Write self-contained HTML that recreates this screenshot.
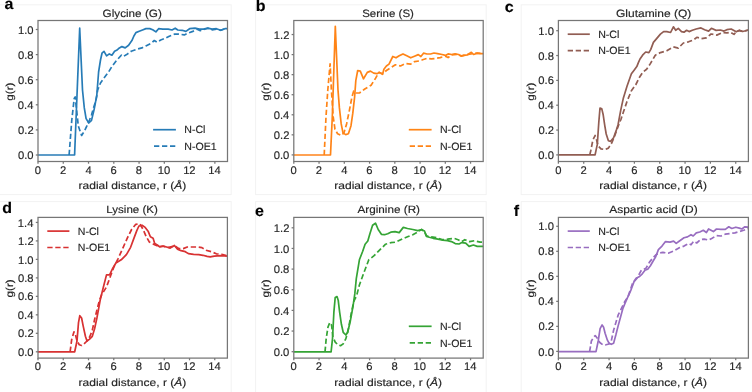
<!DOCTYPE html><html><head><meta charset="utf-8"><style>html,body{margin:0;padding:0;background:#fff;width:752px;height:392px;overflow:hidden}svg{display:block;will-change:transform}text{font-family:"Liberation Sans", sans-serif;text-rendering:geometricPrecision}</style></head><body>
<svg width="752" height="392" viewBox="0 0 752 392">
<defs><filter id="soft" x="-5%" y="-5%" width="110%" height="110%"><feGaussianBlur stdDeviation="0.45"/></filter></defs><g filter="url(#soft)">
<rect x="-2" y="4.8" width="233.2" height="189.8" fill="none" stroke="#f2f2f2" stroke-width="1"/>
<rect x="255.6" y="4.8" width="230.6" height="189.8" fill="none" stroke="#f2f2f2" stroke-width="1"/>
<rect x="521.2" y="4.8" width="238.8" height="189.8" fill="none" stroke="#f2f2f2" stroke-width="1"/>
<rect x="-2" y="201.6" width="233.2" height="198.4" fill="none" stroke="#f2f2f2" stroke-width="1"/>
<rect x="255.6" y="201.6" width="230.6" height="198.4" fill="none" stroke="#f2f2f2" stroke-width="1"/>
<rect x="521.2" y="201.6" width="238.8" height="198.4" fill="none" stroke="#f2f2f2" stroke-width="1"/>
<text transform="translate(4.62,8.50) scale(1.0300,1)" font-size="15.5" fill="#000" stroke="#000" stroke-width="0.15" font-weight="bold"><tspan>a</tspan></text>
<text transform="translate(102.61,16.50) scale(1.1046,1)" font-size="10.6" fill="#262626" stroke="#262626" stroke-width="0.15"><tspan>Glycine (G)</tspan></text>
<clipPath id="clipa"><rect x="38.0" y="20.5" width="189.50" height="141.00"/></clipPath>
<path d="M69.1,155.0 L71.8,120.0 L74.2,98.5 L75.2,97.0 L76.6,110.0 L78.3,126.0 L81.6,135.5 L84.5,131.0 L87.0,125.7 L89.5,120.0 L91.5,115.0 L93.5,108.0 L95.9,100.7 L97.7,90.0 L100.5,83.0 L104.0,78.0 L108.6,72.0 L111.9,66.5 L115.9,61.2 L121.3,55.2 L123.2,56.6 L126.6,54.6 L131.2,51.3 L136.5,49.3 L141.9,47.9 L145.9,45.9 L151.2,43.3 L154.3,40.5 L157.0,42.1 L160.7,40.0 L165.0,38.3 L169.3,36.2 L174.6,34.1 L178.9,34.1 L184.3,34.9 L188.5,33.0 L192.8,31.4 L197.1,29.2 L200.3,30.6 L204.6,29.2 L207.8,28.2 L212.1,29.8 L216.4,29.2 L220.7,30.3 L224.9,28.7 L228.0,28.7" fill="none" stroke="#287cb7" stroke-width="1.7" stroke-linejoin="round" stroke-dasharray="5.3 2.7" clip-path="url(#clipa)"/>
<path d="M38.0,155.0 L74.6,155.0 L79.7,28.2 L82.5,90.0 L84.3,107.9 L86.1,118.6 L88.8,123.0 L91.5,120.4 L94.1,109.6 L96.8,95.4 L98.6,72.0 L100.5,60.0 L102.0,53.2 L104.0,51.3 L106.6,55.9 L109.3,53.9 L111.9,55.2 L114.6,51.3 L116.6,50.3 L118.6,48.6 L121.9,46.6 L125.2,47.9 L128.6,45.3 L131.9,40.6 L133.9,36.0 L135.9,32.6 L139.2,31.3 L142.5,30.0 L145.9,28.6 L149.8,28.6 L152.7,29.8 L155.9,31.9 L158.6,28.7 L162.8,29.2 L168.2,29.2 L172.0,30.0 L175.2,28.2 L177.8,30.0 L182.1,30.3 L185.9,31.4 L189.6,28.7 L195.0,28.2 L199.3,29.2 L203.5,29.2 L207.8,28.2 L212.1,29.2 L216.4,28.7 L220.7,30.3 L224.9,28.7 L228.0,28.7" fill="none" stroke="#287cb7" stroke-width="1.7" stroke-linejoin="round" clip-path="url(#clipa)"/>
<rect x="38.0" y="20.5" width="189.50" height="141.00" fill="none" stroke="#767676" stroke-width="1.25"/>
<line x1="38.00" y1="161.5" x2="38.00" y2="163.7" stroke="#767676" stroke-width="1.25"/>
<text transform="translate(34.76,173.60) scale(1.0200,1)" font-size="11.0" fill="#262626" stroke="#262626" stroke-width="0.15"><tspan>0</tspan></text>
<line x1="63.27" y1="161.5" x2="63.27" y2="163.7" stroke="#767676" stroke-width="1.25"/>
<text transform="translate(60.05,173.60) scale(1.0200,1)" font-size="11.0" fill="#262626" stroke="#262626" stroke-width="0.15"><tspan>2</tspan></text>
<line x1="88.53" y1="161.5" x2="88.53" y2="163.7" stroke="#767676" stroke-width="1.25"/>
<text transform="translate(85.38,173.60) scale(1.0200,1)" font-size="11.0" fill="#262626" stroke="#262626" stroke-width="0.15"><tspan>4</tspan></text>
<line x1="113.80" y1="161.5" x2="113.80" y2="163.7" stroke="#767676" stroke-width="1.25"/>
<text transform="translate(110.53,173.60) scale(1.0200,1)" font-size="11.0" fill="#262626" stroke="#262626" stroke-width="0.15"><tspan>6</tspan></text>
<line x1="139.07" y1="161.5" x2="139.07" y2="163.7" stroke="#767676" stroke-width="1.25"/>
<text transform="translate(135.83,173.60) scale(1.0200,1)" font-size="11.0" fill="#262626" stroke="#262626" stroke-width="0.15"><tspan>8</tspan></text>
<line x1="164.33" y1="161.5" x2="164.33" y2="163.7" stroke="#767676" stroke-width="1.25"/>
<text transform="translate(157.78,173.60) scale(1.0200,1)" font-size="11.0" fill="#262626" stroke="#262626" stroke-width="0.15"><tspan>10</tspan></text>
<line x1="189.60" y1="161.5" x2="189.60" y2="163.7" stroke="#767676" stroke-width="1.25"/>
<text transform="translate(183.13,173.60) scale(1.0200,1)" font-size="11.0" fill="#262626" stroke="#262626" stroke-width="0.15"><tspan>12</tspan></text>
<line x1="214.87" y1="161.5" x2="214.87" y2="163.7" stroke="#767676" stroke-width="1.25"/>
<text transform="translate(208.29,173.60) scale(1.0200,1)" font-size="11.0" fill="#262626" stroke="#262626" stroke-width="0.15"><tspan>14</tspan></text>
<line x1="35.8" y1="155.00" x2="38.0" y2="155.00" stroke="#767676" stroke-width="1.25"/>
<text transform="translate(17.90,159.10) scale(1.0200,1)" font-size="11.0" fill="#262626" stroke="#262626" stroke-width="0.15"><tspan>0.0</tspan></text>
<line x1="35.8" y1="129.90" x2="38.0" y2="129.90" stroke="#767676" stroke-width="1.25"/>
<text transform="translate(18.07,134.00) scale(1.0200,1)" font-size="11.0" fill="#262626" stroke="#262626" stroke-width="0.15"><tspan>0.2</tspan></text>
<line x1="35.8" y1="104.80" x2="38.0" y2="104.80" stroke="#767676" stroke-width="1.25"/>
<text transform="translate(17.84,108.90) scale(1.0200,1)" font-size="11.0" fill="#262626" stroke="#262626" stroke-width="0.15"><tspan>0.4</tspan></text>
<line x1="35.8" y1="79.70" x2="38.0" y2="79.70" stroke="#767676" stroke-width="1.25"/>
<text transform="translate(17.95,83.80) scale(1.0200,1)" font-size="11.0" fill="#262626" stroke="#262626" stroke-width="0.15"><tspan>0.6</tspan></text>
<line x1="35.8" y1="54.60" x2="38.0" y2="54.60" stroke="#767676" stroke-width="1.25"/>
<text transform="translate(17.95,58.70) scale(1.0200,1)" font-size="11.0" fill="#262626" stroke="#262626" stroke-width="0.15"><tspan>0.8</tspan></text>
<line x1="35.8" y1="29.50" x2="38.0" y2="29.50" stroke="#767676" stroke-width="1.25"/>
<text transform="translate(17.90,33.60) scale(1.0200,1)" font-size="11.0" fill="#262626" stroke="#262626" stroke-width="0.15"><tspan>1.0</tspan></text>
<text transform="translate(78.51,188.90) scale(1.1600,1)" font-size="10.4" fill="#262626" stroke="#262626" stroke-width="0.15"><tspan>radial distance, r (</tspan><tspan font-style="italic">Å</tspan><tspan>)</tspan></text>
<text transform="translate(13.20,91.80) rotate(-90) translate(-8.90,0) scale(1.1400,1)" font-size="10.2" fill="#262626" stroke="#262626" stroke-width="0.15">g(r)</text>
<line x1="153.10" y1="129.70" x2="175.90" y2="129.70" stroke="#287cb7" stroke-width="1.7"/>
<line x1="153.10" y1="146.20" x2="175.90" y2="146.20" stroke="#287cb7" stroke-width="1.7" stroke-dasharray="5.3 2.7" stroke-dashoffset="-0.9"/>
<text transform="translate(184.25,133.40) scale(1.0000,1)" font-size="10.6" fill="#262626" stroke="#262626" stroke-width="0.15"><tspan>N-Cl</tspan></text>
<text transform="translate(184.25,149.90) scale(1.0000,1)" font-size="10.6" fill="#262626" stroke="#262626" stroke-width="0.15"><tspan>N-OE1</tspan></text>
<text transform="translate(255.86,11.40) scale(1.0300,1)" font-size="15.5" fill="#000" stroke="#000" stroke-width="0.15" font-weight="bold"><tspan>b</tspan></text>
<text transform="translate(362.18,16.50) scale(1.0840,1)" font-size="10.6" fill="#262626" stroke="#262626" stroke-width="0.15"><tspan>Serine (S)</tspan></text>
<clipPath id="clipb"><rect x="293.8" y="20.5" width="189.40" height="141.00"/></clipPath>
<path d="M324.2,155.0 L326.0,116.8 L327.8,90.0 L330.1,63.8 L331.4,90.0 L333.2,116.8 L335.0,129.3 L337.6,133.8 L341.2,135.5 L343.9,132.9 L346.6,123.9 L349.2,111.4 L351.9,97.1 L353.7,91.0 L355.8,93.0 L359.7,92.8 L364.8,89.0 L371.1,85.2 L375.6,78.2 L378.8,72.4 L382.6,73.7 L386.4,70.5 L390.3,68.0 L395.4,64.8 L400.5,66.0 L405.6,63.5 L410.7,64.1 L414.5,61.6 L419.6,60.9 L422.6,59.8 L427.0,58.4 L431.4,58.9 L435.8,58.4 L440.2,57.6 L445.5,56.2 L448.1,57.6 L451.6,54.9 L456.9,54.5 L461.3,55.8 L465.7,54.9 L470.9,54.0 L476.2,53.2 L484.0,53.6" fill="none" stroke="#ff8418" stroke-width="1.7" stroke-linejoin="round" stroke-dasharray="5.3 2.7" clip-path="url(#clipb)"/>
<path d="M294.0,155.0 L330.5,155.0 L332.3,116.8 L335.3,26.3 L338.0,90.0 L339.4,107.9 L341.2,123.9 L343.0,132.9 L345.7,134.6 L348.4,133.8 L351.0,125.7 L352.8,113.2 L354.6,97.1 L355.8,80.7 L357.7,70.5 L360.3,71.1 L363.5,78.8 L367.3,72.4 L370.5,71.1 L373.7,73.1 L376.9,73.7 L379.4,72.4 L382.6,74.3 L383.9,69.2 L386.4,66.0 L389.0,64.1 L392.8,56.5 L396.0,57.8 L399.2,55.8 L403.0,53.9 L406.8,55.8 L410.7,57.8 L414.5,56.2 L418.3,54.6 L420.9,56.5 L423.5,53.2 L427.0,54.0 L430.5,54.0 L434.0,53.0 L437.6,53.6 L442.0,54.5 L445.5,55.4 L448.1,53.9 L451.6,54.5 L455.1,53.9 L458.6,54.5 L461.3,56.2 L463.9,55.4 L467.4,54.8 L471.4,52.3 L473.6,54.5 L477.1,53.2 L480.6,53.6 L484.0,53.6" fill="none" stroke="#ff8418" stroke-width="1.7" stroke-linejoin="round" clip-path="url(#clipb)"/>
<rect x="293.8" y="20.5" width="189.40" height="141.00" fill="none" stroke="#767676" stroke-width="1.25"/>
<line x1="293.80" y1="161.5" x2="293.80" y2="163.7" stroke="#767676" stroke-width="1.25"/>
<text transform="translate(290.56,173.60) scale(1.0200,1)" font-size="11.0" fill="#262626" stroke="#262626" stroke-width="0.15"><tspan>0</tspan></text>
<line x1="319.05" y1="161.5" x2="319.05" y2="163.7" stroke="#767676" stroke-width="1.25"/>
<text transform="translate(315.84,173.60) scale(1.0200,1)" font-size="11.0" fill="#262626" stroke="#262626" stroke-width="0.15"><tspan>2</tspan></text>
<line x1="344.31" y1="161.5" x2="344.31" y2="163.7" stroke="#767676" stroke-width="1.25"/>
<text transform="translate(341.15,173.60) scale(1.0200,1)" font-size="11.0" fill="#262626" stroke="#262626" stroke-width="0.15"><tspan>4</tspan></text>
<line x1="369.56" y1="161.5" x2="369.56" y2="163.7" stroke="#767676" stroke-width="1.25"/>
<text transform="translate(366.29,173.60) scale(1.0200,1)" font-size="11.0" fill="#262626" stroke="#262626" stroke-width="0.15"><tspan>6</tspan></text>
<line x1="394.81" y1="161.5" x2="394.81" y2="163.7" stroke="#767676" stroke-width="1.25"/>
<text transform="translate(391.57,173.60) scale(1.0200,1)" font-size="11.0" fill="#262626" stroke="#262626" stroke-width="0.15"><tspan>8</tspan></text>
<line x1="420.07" y1="161.5" x2="420.07" y2="163.7" stroke="#767676" stroke-width="1.25"/>
<text transform="translate(413.52,173.60) scale(1.0200,1)" font-size="11.0" fill="#262626" stroke="#262626" stroke-width="0.15"><tspan>10</tspan></text>
<line x1="445.32" y1="161.5" x2="445.32" y2="163.7" stroke="#767676" stroke-width="1.25"/>
<text transform="translate(438.85,173.60) scale(1.0200,1)" font-size="11.0" fill="#262626" stroke="#262626" stroke-width="0.15"><tspan>12</tspan></text>
<line x1="470.57" y1="161.5" x2="470.57" y2="163.7" stroke="#767676" stroke-width="1.25"/>
<text transform="translate(463.99,173.60) scale(1.0200,1)" font-size="11.0" fill="#262626" stroke="#262626" stroke-width="0.15"><tspan>14</tspan></text>
<line x1="291.6" y1="154.90" x2="293.8" y2="154.90" stroke="#767676" stroke-width="1.25"/>
<text transform="translate(273.70,159.00) scale(1.0200,1)" font-size="11.0" fill="#262626" stroke="#262626" stroke-width="0.15"><tspan>0.0</tspan></text>
<line x1="291.6" y1="134.84" x2="293.8" y2="134.84" stroke="#767676" stroke-width="1.25"/>
<text transform="translate(273.87,138.94) scale(1.0200,1)" font-size="11.0" fill="#262626" stroke="#262626" stroke-width="0.15"><tspan>0.2</tspan></text>
<line x1="291.6" y1="114.78" x2="293.8" y2="114.78" stroke="#767676" stroke-width="1.25"/>
<text transform="translate(273.64,118.88) scale(1.0200,1)" font-size="11.0" fill="#262626" stroke="#262626" stroke-width="0.15"><tspan>0.4</tspan></text>
<line x1="291.6" y1="94.72" x2="293.8" y2="94.72" stroke="#767676" stroke-width="1.25"/>
<text transform="translate(273.75,98.82) scale(1.0200,1)" font-size="11.0" fill="#262626" stroke="#262626" stroke-width="0.15"><tspan>0.6</tspan></text>
<line x1="291.6" y1="74.66" x2="293.8" y2="74.66" stroke="#767676" stroke-width="1.25"/>
<text transform="translate(273.75,78.76) scale(1.0200,1)" font-size="11.0" fill="#262626" stroke="#262626" stroke-width="0.15"><tspan>0.8</tspan></text>
<line x1="291.6" y1="54.60" x2="293.8" y2="54.60" stroke="#767676" stroke-width="1.25"/>
<text transform="translate(273.70,58.70) scale(1.0200,1)" font-size="11.0" fill="#262626" stroke="#262626" stroke-width="0.15"><tspan>1.0</tspan></text>
<line x1="291.6" y1="34.54" x2="293.8" y2="34.54" stroke="#767676" stroke-width="1.25"/>
<text transform="translate(273.87,38.64) scale(1.0200,1)" font-size="11.0" fill="#262626" stroke="#262626" stroke-width="0.15"><tspan>1.2</tspan></text>
<text transform="translate(334.26,188.90) scale(1.1600,1)" font-size="10.4" fill="#262626" stroke="#262626" stroke-width="0.15"><tspan>radial distance, r (</tspan><tspan font-style="italic">Å</tspan><tspan>)</tspan></text>
<text transform="translate(269.00,91.80) rotate(-90) translate(-8.90,0) scale(1.1400,1)" font-size="10.2" fill="#262626" stroke="#262626" stroke-width="0.15">g(r)</text>
<line x1="408.80" y1="129.70" x2="431.60" y2="129.70" stroke="#ff8418" stroke-width="1.7"/>
<line x1="408.80" y1="146.20" x2="431.60" y2="146.20" stroke="#ff8418" stroke-width="1.7" stroke-dasharray="5.3 2.7" stroke-dashoffset="-0.9"/>
<text transform="translate(439.95,133.40) scale(1.0000,1)" font-size="10.6" fill="#262626" stroke="#262626" stroke-width="0.15"><tspan>N-Cl</tspan></text>
<text transform="translate(439.95,149.90) scale(1.0000,1)" font-size="10.6" fill="#262626" stroke="#262626" stroke-width="0.15"><tspan>N-OE1</tspan></text>
<text transform="translate(504.86,11.70) scale(1.0300,1)" font-size="15.5" fill="#000" stroke="#000" stroke-width="0.15" font-weight="bold"><tspan>c</tspan></text>
<text transform="translate(616.00,16.50) scale(1.1309,1)" font-size="10.6" fill="#262626" stroke="#262626" stroke-width="0.15"><tspan>Glutamine (Q)</tspan></text>
<clipPath id="clipc"><rect x="558.4" y="20.5" width="190.00" height="141.00"/></clipPath>
<path d="M589.8,154.8 L590.7,151.0 L592.9,140.0 L595.1,135.5 L596.6,140.0 L598.1,145.9 L601.0,148.8 L604.7,149.6 L608.4,148.1 L611.4,143.6 L614.3,137.0 L618.0,126.6 L621.0,119.2 L623.4,112.1 L627.0,101.4 L631.4,90.7 L635.9,84.5 L639.5,77.3 L643.0,72.0 L646.6,69.3 L650.2,63.9 L655.3,55.2 L660.4,52.6 L666.8,50.7 L673.2,46.9 L678.3,48.1 L683.4,43.0 L688.5,41.8 L693.6,39.9 L696.8,37.3 L701.2,38.6 L706.3,37.9 L711.1,34.0 L716.8,35.1 L722.6,32.6 L726.9,32.9 L730.5,32.2 L734.0,34.4 L736.2,31.8 L739.1,30.4 L742.7,31.5 L748.5,30.0" fill="none" stroke="#915d52" stroke-width="1.7" stroke-linejoin="round" stroke-dasharray="5.3 2.7" clip-path="url(#clipc)"/>
<path d="M558.0,154.8 L595.1,154.8 L597.3,144.4 L598.8,122.2 L600.0,108.1 L601.8,108.9 L603.2,114.8 L604.7,125.1 L606.2,134.0 L608.4,140.7 L610.6,141.4 L613.6,137.7 L616.5,129.6 L618.0,125.0 L620.7,110.4 L623.4,97.9 L627.0,86.2 L631.4,73.8 L634.1,70.2 L636.8,66.6 L638.6,62.1 L640.0,59.0 L642.6,55.2 L645.7,52.0 L648.9,52.6 L650.8,49.4 L653.4,42.4 L656.6,38.6 L660.4,34.1 L663.6,31.6 L666.8,31.6 L670.6,32.5 L673.4,26.8 L675.7,30.3 L678.3,28.4 L681.5,31.6 L684.0,32.2 L686.6,30.3 L689.1,31.6 L692.3,30.3 L696.1,29.0 L701.0,27.9 L704.6,29.7 L708.6,31.1 L711.4,28.3 L716.1,30.4 L720.4,30.0 L724.0,31.1 L726.9,29.7 L731.2,29.0 L736.2,31.8 L739.1,30.4 L742.7,31.5 L748.5,30.0" fill="none" stroke="#915d52" stroke-width="1.7" stroke-linejoin="round" clip-path="url(#clipc)"/>
<rect x="558.4" y="20.5" width="190.00" height="141.00" fill="none" stroke="#767676" stroke-width="1.25"/>
<line x1="558.40" y1="161.5" x2="558.40" y2="163.7" stroke="#767676" stroke-width="1.25"/>
<text transform="translate(555.16,173.60) scale(1.0200,1)" font-size="11.0" fill="#262626" stroke="#262626" stroke-width="0.15"><tspan>0</tspan></text>
<line x1="583.73" y1="161.5" x2="583.73" y2="163.7" stroke="#767676" stroke-width="1.25"/>
<text transform="translate(580.52,173.60) scale(1.0200,1)" font-size="11.0" fill="#262626" stroke="#262626" stroke-width="0.15"><tspan>2</tspan></text>
<line x1="609.07" y1="161.5" x2="609.07" y2="163.7" stroke="#767676" stroke-width="1.25"/>
<text transform="translate(605.91,173.60) scale(1.0200,1)" font-size="11.0" fill="#262626" stroke="#262626" stroke-width="0.15"><tspan>4</tspan></text>
<line x1="634.40" y1="161.5" x2="634.40" y2="163.7" stroke="#767676" stroke-width="1.25"/>
<text transform="translate(631.13,173.60) scale(1.0200,1)" font-size="11.0" fill="#262626" stroke="#262626" stroke-width="0.15"><tspan>6</tspan></text>
<line x1="659.73" y1="161.5" x2="659.73" y2="163.7" stroke="#767676" stroke-width="1.25"/>
<text transform="translate(656.49,173.60) scale(1.0200,1)" font-size="11.0" fill="#262626" stroke="#262626" stroke-width="0.15"><tspan>8</tspan></text>
<line x1="685.07" y1="161.5" x2="685.07" y2="163.7" stroke="#767676" stroke-width="1.25"/>
<text transform="translate(678.52,173.60) scale(1.0200,1)" font-size="11.0" fill="#262626" stroke="#262626" stroke-width="0.15"><tspan>10</tspan></text>
<line x1="710.40" y1="161.5" x2="710.40" y2="163.7" stroke="#767676" stroke-width="1.25"/>
<text transform="translate(703.93,173.60) scale(1.0200,1)" font-size="11.0" fill="#262626" stroke="#262626" stroke-width="0.15"><tspan>12</tspan></text>
<line x1="735.73" y1="161.5" x2="735.73" y2="163.7" stroke="#767676" stroke-width="1.25"/>
<text transform="translate(729.15,173.60) scale(1.0200,1)" font-size="11.0" fill="#262626" stroke="#262626" stroke-width="0.15"><tspan>14</tspan></text>
<line x1="556.1999999999999" y1="154.90" x2="558.4" y2="154.90" stroke="#767676" stroke-width="1.25"/>
<text transform="translate(538.30,159.00) scale(1.0200,1)" font-size="11.0" fill="#262626" stroke="#262626" stroke-width="0.15"><tspan>0.0</tspan></text>
<line x1="556.1999999999999" y1="130.06" x2="558.4" y2="130.06" stroke="#767676" stroke-width="1.25"/>
<text transform="translate(538.47,134.16) scale(1.0200,1)" font-size="11.0" fill="#262626" stroke="#262626" stroke-width="0.15"><tspan>0.2</tspan></text>
<line x1="556.1999999999999" y1="105.22" x2="558.4" y2="105.22" stroke="#767676" stroke-width="1.25"/>
<text transform="translate(538.24,109.32) scale(1.0200,1)" font-size="11.0" fill="#262626" stroke="#262626" stroke-width="0.15"><tspan>0.4</tspan></text>
<line x1="556.1999999999999" y1="80.38" x2="558.4" y2="80.38" stroke="#767676" stroke-width="1.25"/>
<text transform="translate(538.35,84.48) scale(1.0200,1)" font-size="11.0" fill="#262626" stroke="#262626" stroke-width="0.15"><tspan>0.6</tspan></text>
<line x1="556.1999999999999" y1="55.54" x2="558.4" y2="55.54" stroke="#767676" stroke-width="1.25"/>
<text transform="translate(538.35,59.64) scale(1.0200,1)" font-size="11.0" fill="#262626" stroke="#262626" stroke-width="0.15"><tspan>0.8</tspan></text>
<line x1="556.1999999999999" y1="30.70" x2="558.4" y2="30.70" stroke="#767676" stroke-width="1.25"/>
<text transform="translate(538.30,34.80) scale(1.0200,1)" font-size="11.0" fill="#262626" stroke="#262626" stroke-width="0.15"><tspan>1.0</tspan></text>
<text transform="translate(599.16,188.90) scale(1.1600,1)" font-size="10.4" fill="#262626" stroke="#262626" stroke-width="0.15"><tspan>radial distance, r (</tspan><tspan font-style="italic">Å</tspan><tspan>)</tspan></text>
<text transform="translate(533.60,91.80) rotate(-90) translate(-8.90,0) scale(1.1400,1)" font-size="10.2" fill="#262626" stroke="#262626" stroke-width="0.15">g(r)</text>
<line x1="567.70" y1="34.20" x2="589.80" y2="34.20" stroke="#915d52" stroke-width="1.7"/>
<line x1="567.70" y1="50.60" x2="589.80" y2="50.60" stroke="#915d52" stroke-width="1.7" stroke-dasharray="5.3 2.7" stroke-dashoffset="0"/>
<text transform="translate(598.15,37.90) scale(1.0000,1)" font-size="10.6" fill="#262626" stroke="#262626" stroke-width="0.15"><tspan>N-Cl</tspan></text>
<text transform="translate(598.15,54.30) scale(1.0000,1)" font-size="10.6" fill="#262626" stroke="#262626" stroke-width="0.15"><tspan>N-OE1</tspan></text>
<text transform="translate(2.26,213.20) scale(1.0300,1)" font-size="15.5" fill="#000" stroke="#000" stroke-width="0.15" font-weight="bold"><tspan>d</tspan></text>
<text transform="translate(106.27,213.40) scale(1.0919,1)" font-size="10.6" fill="#262626" stroke="#262626" stroke-width="0.15"><tspan>Lysine (K)</tspan></text>
<clipPath id="clipd"><rect x="38.0" y="217.4" width="189.40" height="140.70"/></clipPath>
<path d="M70.1,351.8 L71.7,339.4 L74.0,331.8 L75.5,334.8 L77.0,341.0 L79.3,344.8 L81.6,345.5 L83.9,344.0 L87.0,341.0 L90.0,336.3 L92.3,330.2 L94.6,319.5 L96.9,310.3 L99.2,301.1 L101.5,295.0 L106.5,287.0 L110.7,275.5 L113.8,267.2 L118.0,258.8 L123.2,247.3 L127.4,237.9 L131.6,229.5 L135.8,224.3 L140.0,223.9 L143.1,229.5 L146.3,236.8 L149.4,242.1 L153.6,244.2 L155.2,245.0 L159.3,246.5 L163.5,246.3 L167.6,247.6 L171.8,246.5 L174.9,246.0 L179.0,248.6 L183.2,248.6 L187.3,247.0 L192.5,247.0 L197.7,247.0 L201.9,247.6 L206.0,250.2 L211.2,251.7 L216.4,253.8 L221.6,254.3 L228.0,256.1" fill="none" stroke="#d83031" stroke-width="1.7" stroke-linejoin="round" stroke-dasharray="5.3 2.7" clip-path="url(#clipd)"/>
<path d="M38.0,351.8 L74.7,351.8 L77.0,341.0 L78.5,322.6 L79.8,315.7 L81.6,318.0 L83.1,325.6 L85.4,336.3 L87.0,341.0 L89.3,339.4 L92.3,336.3 L94.6,328.7 L96.9,318.0 L99.2,305.7 L100.2,300.0 L103.4,287.0 L106.5,274.9 L109.6,274.9 L112.8,268.2 L115.9,263.0 L121.2,259.8 L126.4,254.6 L130.6,247.3 L133.7,238.9 L136.8,230.6 L138.9,226.0 L142.1,225.3 L145.2,227.4 L148.3,231.6 L150.4,236.8 L153.1,238.2 L154.7,243.4 L157.3,245.0 L159.9,247.0 L163.0,246.0 L166.6,247.0 L170.2,248.1 L174.4,245.5 L177.5,249.1 L181.1,250.7 L185.3,251.7 L188.4,253.6 L193.6,254.3 L198.8,254.6 L202.9,255.3 L207.1,256.4 L210.2,256.9 L214.3,256.1 L220.5,255.7 L228.0,256.1" fill="none" stroke="#d83031" stroke-width="1.7" stroke-linejoin="round" clip-path="url(#clipd)"/>
<rect x="38.0" y="217.4" width="189.40" height="140.70" fill="none" stroke="#767676" stroke-width="1.25"/>
<line x1="38.00" y1="358.1" x2="38.00" y2="360.3" stroke="#767676" stroke-width="1.25"/>
<text transform="translate(34.76,370.20) scale(1.0200,1)" font-size="11.0" fill="#262626" stroke="#262626" stroke-width="0.15"><tspan>0</tspan></text>
<line x1="63.25" y1="358.1" x2="63.25" y2="360.3" stroke="#767676" stroke-width="1.25"/>
<text transform="translate(60.04,370.20) scale(1.0200,1)" font-size="11.0" fill="#262626" stroke="#262626" stroke-width="0.15"><tspan>2</tspan></text>
<line x1="88.51" y1="358.1" x2="88.51" y2="360.3" stroke="#767676" stroke-width="1.25"/>
<text transform="translate(85.35,370.20) scale(1.0200,1)" font-size="11.0" fill="#262626" stroke="#262626" stroke-width="0.15"><tspan>4</tspan></text>
<line x1="113.76" y1="358.1" x2="113.76" y2="360.3" stroke="#767676" stroke-width="1.25"/>
<text transform="translate(110.49,370.20) scale(1.0200,1)" font-size="11.0" fill="#262626" stroke="#262626" stroke-width="0.15"><tspan>6</tspan></text>
<line x1="139.01" y1="358.1" x2="139.01" y2="360.3" stroke="#767676" stroke-width="1.25"/>
<text transform="translate(135.77,370.20) scale(1.0200,1)" font-size="11.0" fill="#262626" stroke="#262626" stroke-width="0.15"><tspan>8</tspan></text>
<line x1="164.27" y1="358.1" x2="164.27" y2="360.3" stroke="#767676" stroke-width="1.25"/>
<text transform="translate(157.72,370.20) scale(1.0200,1)" font-size="11.0" fill="#262626" stroke="#262626" stroke-width="0.15"><tspan>10</tspan></text>
<line x1="189.52" y1="358.1" x2="189.52" y2="360.3" stroke="#767676" stroke-width="1.25"/>
<text transform="translate(183.05,370.20) scale(1.0200,1)" font-size="11.0" fill="#262626" stroke="#262626" stroke-width="0.15"><tspan>12</tspan></text>
<line x1="214.77" y1="358.1" x2="214.77" y2="360.3" stroke="#767676" stroke-width="1.25"/>
<text transform="translate(208.19,370.20) scale(1.0200,1)" font-size="11.0" fill="#262626" stroke="#262626" stroke-width="0.15"><tspan>14</tspan></text>
<line x1="35.8" y1="351.80" x2="38.0" y2="351.80" stroke="#767676" stroke-width="1.25"/>
<text transform="translate(17.90,355.90) scale(1.0200,1)" font-size="11.0" fill="#262626" stroke="#262626" stroke-width="0.15"><tspan>0.0</tspan></text>
<line x1="35.8" y1="333.32" x2="38.0" y2="333.32" stroke="#767676" stroke-width="1.25"/>
<text transform="translate(18.07,337.42) scale(1.0200,1)" font-size="11.0" fill="#262626" stroke="#262626" stroke-width="0.15"><tspan>0.2</tspan></text>
<line x1="35.8" y1="314.84" x2="38.0" y2="314.84" stroke="#767676" stroke-width="1.25"/>
<text transform="translate(17.84,318.94) scale(1.0200,1)" font-size="11.0" fill="#262626" stroke="#262626" stroke-width="0.15"><tspan>0.4</tspan></text>
<line x1="35.8" y1="296.36" x2="38.0" y2="296.36" stroke="#767676" stroke-width="1.25"/>
<text transform="translate(17.95,300.46) scale(1.0200,1)" font-size="11.0" fill="#262626" stroke="#262626" stroke-width="0.15"><tspan>0.6</tspan></text>
<line x1="35.8" y1="277.88" x2="38.0" y2="277.88" stroke="#767676" stroke-width="1.25"/>
<text transform="translate(17.95,281.98) scale(1.0200,1)" font-size="11.0" fill="#262626" stroke="#262626" stroke-width="0.15"><tspan>0.8</tspan></text>
<line x1="35.8" y1="259.40" x2="38.0" y2="259.40" stroke="#767676" stroke-width="1.25"/>
<text transform="translate(17.90,263.50) scale(1.0200,1)" font-size="11.0" fill="#262626" stroke="#262626" stroke-width="0.15"><tspan>1.0</tspan></text>
<line x1="35.8" y1="240.92" x2="38.0" y2="240.92" stroke="#767676" stroke-width="1.25"/>
<text transform="translate(18.07,245.02) scale(1.0200,1)" font-size="11.0" fill="#262626" stroke="#262626" stroke-width="0.15"><tspan>1.2</tspan></text>
<line x1="35.8" y1="222.44" x2="38.0" y2="222.44" stroke="#767676" stroke-width="1.25"/>
<text transform="translate(17.84,226.54) scale(1.0200,1)" font-size="11.0" fill="#262626" stroke="#262626" stroke-width="0.15"><tspan>1.4</tspan></text>
<text transform="translate(78.46,385.50) scale(1.1600,1)" font-size="10.4" fill="#262626" stroke="#262626" stroke-width="0.15"><tspan>radial distance, r (</tspan><tspan font-style="italic">Å</tspan><tspan>)</tspan></text>
<text transform="translate(13.20,288.55) rotate(-90) translate(-8.90,0) scale(1.1400,1)" font-size="10.2" fill="#262626" stroke="#262626" stroke-width="0.15">g(r)</text>
<line x1="47.30" y1="231.10" x2="69.40" y2="231.10" stroke="#d83031" stroke-width="1.7"/>
<line x1="47.30" y1="247.50" x2="69.40" y2="247.50" stroke="#d83031" stroke-width="1.7" stroke-dasharray="5.3 2.7" stroke-dashoffset="0"/>
<text transform="translate(77.75,234.80) scale(1.0000,1)" font-size="10.6" fill="#262626" stroke="#262626" stroke-width="0.15"><tspan>N-Cl</tspan></text>
<text transform="translate(77.75,251.20) scale(1.0000,1)" font-size="10.6" fill="#262626" stroke="#262626" stroke-width="0.15"><tspan>N-OE1</tspan></text>
<text transform="translate(255.06,216.40) scale(1.0300,1)" font-size="15.5" fill="#000" stroke="#000" stroke-width="0.15" font-weight="bold"><tspan>e</tspan></text>
<text transform="translate(357.50,213.40) scale(1.1063,1)" font-size="10.6" fill="#262626" stroke="#262626" stroke-width="0.15"><tspan>Arginine (R)</tspan></text>
<clipPath id="clipe"><rect x="293.8" y="217.4" width="189.40" height="140.70"/></clipPath>
<path d="M325.0,351.9 L326.2,338.6 L328.0,327.0 L329.8,322.5 L331.6,325.2 L332.9,336.8 L335.2,342.1 L337.9,344.8 L340.5,345.7 L343.2,343.9 L345.9,338.6 L348.6,327.9 L351.2,313.6 L353.9,301.1 L356.6,295.7 L359.4,285.0 L363.6,273.4 L368.8,259.8 L374.1,255.7 L379.3,250.4 L385.6,244.2 L390.8,242.7 L396.0,242.1 L402.3,238.9 L407.5,236.8 L412.8,234.7 L417.0,232.5 L421.6,229.4 L424.5,232.0 L426.5,235.9 L431.2,236.8 L437.0,237.8 L442.7,239.7 L447.5,239.2 L454.2,238.3 L458.1,239.7 L461.9,241.6 L464.8,239.7 L469.6,241.6 L474.3,240.7 L480.1,242.1 L484.0,242.1" fill="none" stroke="#34a434" stroke-width="1.7" stroke-linejoin="round" stroke-dasharray="5.3 2.7" clip-path="url(#clipe)"/>
<path d="M294.0,351.9 L331.1,351.9 L332.5,338.6 L333.9,311.8 L335.2,297.5 L337.0,296.6 L338.2,300.2 L339.6,311.8 L341.4,324.3 L343.2,332.3 L345.9,335.0 L347.7,332.3 L350.4,320.7 L353.0,306.4 L354.8,293.9 L356.3,278.7 L359.4,259.8 L362.6,251.5 L365.1,244.2 L367.8,241.0 L369.9,233.7 L372.6,225.3 L375.5,223.2 L378.2,229.5 L381.4,234.3 L384.5,234.7 L387.7,233.7 L390.8,232.2 L395.0,231.6 L399.2,232.6 L403.3,227.4 L407.5,228.5 L412.8,229.5 L417.8,230.6 L421.7,229.7 L424.5,231.1 L426.5,236.4 L429.3,237.3 L433.2,238.3 L438.0,239.2 L442.7,240.2 L447.5,240.7 L451.4,241.6 L455.2,243.6 L459.0,244.0 L461.9,242.6 L465.7,243.1 L469.1,246.4 L473.4,245.0 L477.2,246.4 L484.0,246.4" fill="none" stroke="#34a434" stroke-width="1.7" stroke-linejoin="round" clip-path="url(#clipe)"/>
<rect x="293.8" y="217.4" width="189.40" height="140.70" fill="none" stroke="#767676" stroke-width="1.25"/>
<line x1="293.80" y1="358.1" x2="293.80" y2="360.3" stroke="#767676" stroke-width="1.25"/>
<text transform="translate(290.56,370.20) scale(1.0200,1)" font-size="11.0" fill="#262626" stroke="#262626" stroke-width="0.15"><tspan>0</tspan></text>
<line x1="319.05" y1="358.1" x2="319.05" y2="360.3" stroke="#767676" stroke-width="1.25"/>
<text transform="translate(315.84,370.20) scale(1.0200,1)" font-size="11.0" fill="#262626" stroke="#262626" stroke-width="0.15"><tspan>2</tspan></text>
<line x1="344.31" y1="358.1" x2="344.31" y2="360.3" stroke="#767676" stroke-width="1.25"/>
<text transform="translate(341.15,370.20) scale(1.0200,1)" font-size="11.0" fill="#262626" stroke="#262626" stroke-width="0.15"><tspan>4</tspan></text>
<line x1="369.56" y1="358.1" x2="369.56" y2="360.3" stroke="#767676" stroke-width="1.25"/>
<text transform="translate(366.29,370.20) scale(1.0200,1)" font-size="11.0" fill="#262626" stroke="#262626" stroke-width="0.15"><tspan>6</tspan></text>
<line x1="394.81" y1="358.1" x2="394.81" y2="360.3" stroke="#767676" stroke-width="1.25"/>
<text transform="translate(391.57,370.20) scale(1.0200,1)" font-size="11.0" fill="#262626" stroke="#262626" stroke-width="0.15"><tspan>8</tspan></text>
<line x1="420.07" y1="358.1" x2="420.07" y2="360.3" stroke="#767676" stroke-width="1.25"/>
<text transform="translate(413.52,370.20) scale(1.0200,1)" font-size="11.0" fill="#262626" stroke="#262626" stroke-width="0.15"><tspan>10</tspan></text>
<line x1="445.32" y1="358.1" x2="445.32" y2="360.3" stroke="#767676" stroke-width="1.25"/>
<text transform="translate(438.85,370.20) scale(1.0200,1)" font-size="11.0" fill="#262626" stroke="#262626" stroke-width="0.15"><tspan>12</tspan></text>
<line x1="470.57" y1="358.1" x2="470.57" y2="360.3" stroke="#767676" stroke-width="1.25"/>
<text transform="translate(463.99,370.20) scale(1.0200,1)" font-size="11.0" fill="#262626" stroke="#262626" stroke-width="0.15"><tspan>14</tspan></text>
<line x1="291.6" y1="351.70" x2="293.8" y2="351.70" stroke="#767676" stroke-width="1.25"/>
<text transform="translate(273.70,355.80) scale(1.0200,1)" font-size="11.0" fill="#262626" stroke="#262626" stroke-width="0.15"><tspan>0.0</tspan></text>
<line x1="291.6" y1="331.05" x2="293.8" y2="331.05" stroke="#767676" stroke-width="1.25"/>
<text transform="translate(273.87,335.15) scale(1.0200,1)" font-size="11.0" fill="#262626" stroke="#262626" stroke-width="0.15"><tspan>0.2</tspan></text>
<line x1="291.6" y1="310.40" x2="293.8" y2="310.40" stroke="#767676" stroke-width="1.25"/>
<text transform="translate(273.64,314.50) scale(1.0200,1)" font-size="11.0" fill="#262626" stroke="#262626" stroke-width="0.15"><tspan>0.4</tspan></text>
<line x1="291.6" y1="289.75" x2="293.8" y2="289.75" stroke="#767676" stroke-width="1.25"/>
<text transform="translate(273.75,293.85) scale(1.0200,1)" font-size="11.0" fill="#262626" stroke="#262626" stroke-width="0.15"><tspan>0.6</tspan></text>
<line x1="291.6" y1="269.10" x2="293.8" y2="269.10" stroke="#767676" stroke-width="1.25"/>
<text transform="translate(273.75,273.20) scale(1.0200,1)" font-size="11.0" fill="#262626" stroke="#262626" stroke-width="0.15"><tspan>0.8</tspan></text>
<line x1="291.6" y1="248.45" x2="293.8" y2="248.45" stroke="#767676" stroke-width="1.25"/>
<text transform="translate(273.70,252.55) scale(1.0200,1)" font-size="11.0" fill="#262626" stroke="#262626" stroke-width="0.15"><tspan>1.0</tspan></text>
<line x1="291.6" y1="227.80" x2="293.8" y2="227.80" stroke="#767676" stroke-width="1.25"/>
<text transform="translate(273.87,231.90) scale(1.0200,1)" font-size="11.0" fill="#262626" stroke="#262626" stroke-width="0.15"><tspan>1.2</tspan></text>
<text transform="translate(334.26,385.50) scale(1.1600,1)" font-size="10.4" fill="#262626" stroke="#262626" stroke-width="0.15"><tspan>radial distance, r (</tspan><tspan font-style="italic">Å</tspan><tspan>)</tspan></text>
<text transform="translate(269.00,288.55) rotate(-90) translate(-8.90,0) scale(1.1400,1)" font-size="10.2" fill="#262626" stroke="#262626" stroke-width="0.15">g(r)</text>
<line x1="408.80" y1="326.30" x2="431.60" y2="326.30" stroke="#34a434" stroke-width="1.7"/>
<line x1="408.80" y1="342.80" x2="431.60" y2="342.80" stroke="#34a434" stroke-width="1.7" stroke-dasharray="5.3 2.7" stroke-dashoffset="-0.9"/>
<text transform="translate(439.95,330.00) scale(1.0000,1)" font-size="10.6" fill="#262626" stroke="#262626" stroke-width="0.15"><tspan>N-Cl</tspan></text>
<text transform="translate(439.95,346.50) scale(1.0000,1)" font-size="10.6" fill="#262626" stroke="#262626" stroke-width="0.15"><tspan>N-OE1</tspan></text>
<text transform="translate(513.86,216.40) scale(1.0300,1)" font-size="15.5" fill="#000" stroke="#000" stroke-width="0.15" font-weight="bold"><tspan>f</tspan></text>
<text transform="translate(609.20,213.40) scale(1.1300,1)" font-size="10.6" fill="#262626" stroke="#262626" stroke-width="0.15"><tspan>Aspartic acid (D)</tspan></text>
<clipPath id="clipf"><rect x="558.4" y="217.4" width="190.00" height="140.70"/></clipPath>
<path d="M589.6,351.7 L591.4,341.0 L593.7,337.1 L595.2,335.6 L597.5,338.6 L599.8,342.5 L602.8,344.8 L605.9,344.8 L609.0,344.0 L611.3,340.9 L613.6,330.2 L615.9,322.6 L618.2,314.9 L620.5,310.3 L622.8,305.7 L625.0,301.1 L628.1,296.5 L632.5,283.6 L637.0,278.2 L641.4,270.2 L645.9,268.4 L649.5,262.1 L653.0,257.7 L655.7,255.0 L658.4,253.2 L662.9,252.3 L668.2,253.2 L673.6,251.1 L678.9,247.9 L684.0,246.1 L688.4,243.5 L691.0,244.8 L693.7,241.3 L696.7,243.0 L700.7,239.5 L704.2,239.1 L708.6,240.0 L712.1,238.2 L716.5,235.6 L720.9,236.0 L725.3,234.2 L730.5,233.4 L734.9,232.9 L739.3,231.6 L743.7,230.3 L748.5,228.5" fill="none" stroke="#986dc0" stroke-width="1.7" stroke-linejoin="round" stroke-dasharray="5.3 2.7" clip-path="url(#clipf)"/>
<path d="M558.0,351.7 L596.0,351.7 L598.2,341.0 L600.1,328.7 L602.1,324.9 L603.6,327.2 L605.1,333.3 L607.4,340.2 L609.0,343.2 L611.3,344.3 L613.6,343.2 L615.9,334.8 L618.2,325.6 L620.5,317.2 L622.8,308.8 L625.0,303.4 L626.6,299.6 L630.7,290.7 L634.3,280.9 L636.1,278.2 L639.6,276.4 L642.3,273.8 L645.0,270.2 L647.7,269.3 L650.4,265.7 L653.0,261.2 L655.7,256.8 L658.4,249.6 L662.0,246.1 L665.5,241.6 L670.0,242.1 L673.6,241.1 L676.2,243.4 L679.8,240.7 L684.0,237.8 L687.5,236.9 L691.0,234.7 L693.2,236.0 L696.3,232.9 L699.8,232.0 L703.3,230.3 L706.4,232.5 L708.6,229.0 L713.4,231.6 L716.5,229.0 L720.9,229.4 L725.3,229.4 L728.8,226.8 L731.8,228.5 L735.8,227.2 L739.3,228.1 L741.9,229.0 L744.6,226.8 L748.5,227.2" fill="none" stroke="#986dc0" stroke-width="1.7" stroke-linejoin="round" clip-path="url(#clipf)"/>
<rect x="558.4" y="217.4" width="190.00" height="140.70" fill="none" stroke="#767676" stroke-width="1.25"/>
<line x1="558.40" y1="358.1" x2="558.40" y2="360.3" stroke="#767676" stroke-width="1.25"/>
<text transform="translate(555.16,370.20) scale(1.0200,1)" font-size="11.0" fill="#262626" stroke="#262626" stroke-width="0.15"><tspan>0</tspan></text>
<line x1="583.73" y1="358.1" x2="583.73" y2="360.3" stroke="#767676" stroke-width="1.25"/>
<text transform="translate(580.52,370.20) scale(1.0200,1)" font-size="11.0" fill="#262626" stroke="#262626" stroke-width="0.15"><tspan>2</tspan></text>
<line x1="609.07" y1="358.1" x2="609.07" y2="360.3" stroke="#767676" stroke-width="1.25"/>
<text transform="translate(605.91,370.20) scale(1.0200,1)" font-size="11.0" fill="#262626" stroke="#262626" stroke-width="0.15"><tspan>4</tspan></text>
<line x1="634.40" y1="358.1" x2="634.40" y2="360.3" stroke="#767676" stroke-width="1.25"/>
<text transform="translate(631.13,370.20) scale(1.0200,1)" font-size="11.0" fill="#262626" stroke="#262626" stroke-width="0.15"><tspan>6</tspan></text>
<line x1="659.73" y1="358.1" x2="659.73" y2="360.3" stroke="#767676" stroke-width="1.25"/>
<text transform="translate(656.49,370.20) scale(1.0200,1)" font-size="11.0" fill="#262626" stroke="#262626" stroke-width="0.15"><tspan>8</tspan></text>
<line x1="685.07" y1="358.1" x2="685.07" y2="360.3" stroke="#767676" stroke-width="1.25"/>
<text transform="translate(678.52,370.20) scale(1.0200,1)" font-size="11.0" fill="#262626" stroke="#262626" stroke-width="0.15"><tspan>10</tspan></text>
<line x1="710.40" y1="358.1" x2="710.40" y2="360.3" stroke="#767676" stroke-width="1.25"/>
<text transform="translate(703.93,370.20) scale(1.0200,1)" font-size="11.0" fill="#262626" stroke="#262626" stroke-width="0.15"><tspan>12</tspan></text>
<line x1="735.73" y1="358.1" x2="735.73" y2="360.3" stroke="#767676" stroke-width="1.25"/>
<text transform="translate(729.15,370.20) scale(1.0200,1)" font-size="11.0" fill="#262626" stroke="#262626" stroke-width="0.15"><tspan>14</tspan></text>
<line x1="556.1999999999999" y1="351.40" x2="558.4" y2="351.40" stroke="#767676" stroke-width="1.25"/>
<text transform="translate(538.30,355.50) scale(1.0200,1)" font-size="11.0" fill="#262626" stroke="#262626" stroke-width="0.15"><tspan>0.0</tspan></text>
<line x1="556.1999999999999" y1="326.38" x2="558.4" y2="326.38" stroke="#767676" stroke-width="1.25"/>
<text transform="translate(538.47,330.48) scale(1.0200,1)" font-size="11.0" fill="#262626" stroke="#262626" stroke-width="0.15"><tspan>0.2</tspan></text>
<line x1="556.1999999999999" y1="301.36" x2="558.4" y2="301.36" stroke="#767676" stroke-width="1.25"/>
<text transform="translate(538.24,305.46) scale(1.0200,1)" font-size="11.0" fill="#262626" stroke="#262626" stroke-width="0.15"><tspan>0.4</tspan></text>
<line x1="556.1999999999999" y1="276.34" x2="558.4" y2="276.34" stroke="#767676" stroke-width="1.25"/>
<text transform="translate(538.35,280.44) scale(1.0200,1)" font-size="11.0" fill="#262626" stroke="#262626" stroke-width="0.15"><tspan>0.6</tspan></text>
<line x1="556.1999999999999" y1="251.32" x2="558.4" y2="251.32" stroke="#767676" stroke-width="1.25"/>
<text transform="translate(538.35,255.42) scale(1.0200,1)" font-size="11.0" fill="#262626" stroke="#262626" stroke-width="0.15"><tspan>0.8</tspan></text>
<line x1="556.1999999999999" y1="226.30" x2="558.4" y2="226.30" stroke="#767676" stroke-width="1.25"/>
<text transform="translate(538.30,230.40) scale(1.0200,1)" font-size="11.0" fill="#262626" stroke="#262626" stroke-width="0.15"><tspan>1.0</tspan></text>
<text transform="translate(599.16,385.50) scale(1.1600,1)" font-size="10.4" fill="#262626" stroke="#262626" stroke-width="0.15"><tspan>radial distance, r (</tspan><tspan font-style="italic">Å</tspan><tspan>)</tspan></text>
<text transform="translate(533.60,288.55) rotate(-90) translate(-8.90,0) scale(1.1400,1)" font-size="10.2" fill="#262626" stroke="#262626" stroke-width="0.15">g(r)</text>
<line x1="567.70" y1="231.10" x2="589.80" y2="231.10" stroke="#986dc0" stroke-width="1.7"/>
<line x1="567.70" y1="247.50" x2="589.80" y2="247.50" stroke="#986dc0" stroke-width="1.7" stroke-dasharray="5.3 2.7" stroke-dashoffset="0"/>
<text transform="translate(598.15,234.80) scale(1.0000,1)" font-size="10.6" fill="#262626" stroke="#262626" stroke-width="0.15"><tspan>N-Cl</tspan></text>
<text transform="translate(598.15,251.20) scale(1.0000,1)" font-size="10.6" fill="#262626" stroke="#262626" stroke-width="0.15"><tspan>N-OE1</tspan></text>
</g>
</svg></body></html>
